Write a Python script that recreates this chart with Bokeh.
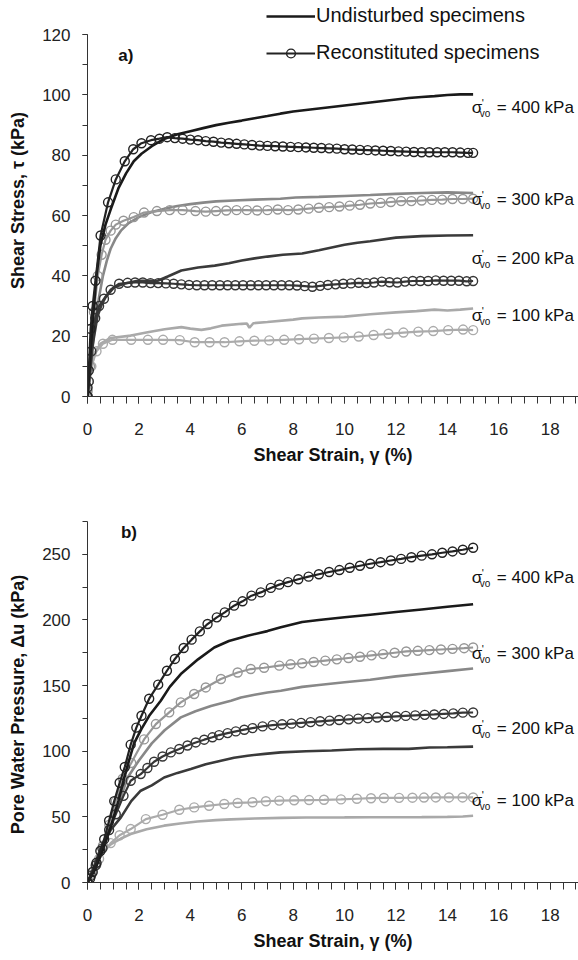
from bokeh.plotting import figure
from bokeh.models import Range1d, FixedTicker, Label, Legend, LegendItem
from bokeh.layouts import column
from bokeh.embed import file_html
from bokeh.resources import INLINE

FONT = "Liberation Sans"

# ---------------- data : panel a) shear stress (kPa) vs shear strain (%) ----------------
A_U400 = [(0, 0), (0.1, 12), (0.2, 25), (0.35, 40), (0.5, 50), (0.7, 57), (0.9, 62), (1.2, 69), (1.5, 74),
          (1.8, 78), (2.1, 80.5), (2.5, 83), (3.0, 85.5), (3.5, 87), (4.0, 88), (4.5, 89), (5.0, 90),
          (5.5, 90.8), (6.0, 91.5), (6.5, 92.3), (7.0, 93), (7.5, 93.8), (8.0, 94.5), (8.5, 95), (9.0, 95.5),
          (9.5, 96), (10.0, 96.5), (10.5, 97), (11.0, 97.5), (11.5, 98), (12.0, 98.5), (12.5, 99), (13.0, 99.3),
          (13.5, 99.6), (14.0, 100), (14.5, 100.2), (15.0, 100.2)]
A_R400 = [(0, 0), (0, 3), (0.05, 8.6), (0.12, 22.4), (0.2, 30), (0.31, 38.4), (0.51, 53.4), (0.8, 64.4),
          (1.1, 72), (1.45, 78), (1.78, 82), (2.1, 84), (2.47, 85), (2.8, 85.5), (3.1, 86), (3.4, 85.7),
          (3.7, 85.5), (4.0, 85.2), (4.3, 85), (4.6, 84.7), (4.9, 84.5), (5.2, 84.2), (5.5, 84), (5.8, 83.8),
          (6.1, 83.6), (6.4, 83.4), (6.7, 83.2), (7.0, 83.1), (7.3, 83), (7.6, 82.9), (7.9, 82.8), (8.2, 82.7),
          (8.5, 82.6), (8.8, 82.5), (9.1, 82.4), (9.4, 82.3), (9.7, 82.2), (10.0, 82), (10.3, 81.9),
          (10.6, 81.8), (10.9, 81.7), (11.2, 81.6), (11.5, 81.5), (11.8, 81.4), (12.1, 81.3), (12.4, 81.2),
          (12.7, 81.1), (13.0, 81), (13.3, 81), (13.6, 81), (13.9, 81), (14.2, 81), (14.5, 80.9),
          (14.8, 80.8), (15.0, 80.8)]
A_U300 = [(0, 0), (0.15, 12), (0.3, 25), (0.45, 33), (0.6, 40), (0.75, 45), (0.9, 49), (1.1, 52.5),
          (1.3, 55), (1.6, 57.5), (2.0, 59.5), (2.5, 61.2), (3.0, 62.3), (3.5, 63.2), (4.0, 63.8), (4.5, 64.3),
          (5.0, 64.7), (5.7, 65), (6.5, 65.3), (7.5, 65.6), (8.1, 66), (9.0, 66.2), (10.0, 66.5), (11.0, 66.8),
          (12.0, 67.2), (13.0, 67.5), (14.0, 67.7), (15.0, 67.5)]
A_R300 = [(0, 0), (0, 2), (0.1, 10), (0.25, 28), (0.4, 40), (0.55, 47), (0.7, 52), (0.9, 55), (1.1, 57),
          (1.4, 58.3), (1.8, 59.5), (2.2, 61), (2.7, 61.5), (3.2, 61.8), (3.7, 61.8), (4.2, 61.5), (4.6, 61.3),
          (5.0, 61.5), (5.4, 61.7), (5.8, 61.8), (6.2, 61.8), (6.6, 61.7), (7.0, 61.8), (7.4, 62), (7.8, 61.8),
          (8.2, 62), (8.6, 62.3), (9.0, 62.6), (9.4, 62.8), (9.8, 63), (10.2, 63.3), (10.6, 63.6), (11.0, 64),
          (11.4, 64.2), (11.8, 64.5), (12.2, 64.8), (12.6, 64.8), (13.0, 65), (13.4, 65.2), (13.8, 65.3),
          (14.2, 65.5), (14.6, 65.5), (15.0, 65.6)]
A_U200 = [(0, 0), (0.1, 8), (0.2, 17), (0.38, 26.3), (0.55, 30.5), (0.7, 32.9), (1.03, 36.2), (1.42, 37.4),
          (1.95, 38.4), (2.73, 38.4), (3.12, 39.8), (3.65, 41.8), (4.3, 42.8), (4.95, 43.4), (5.5, 44.2),
          (6.0, 45.1), (6.5, 45.8), (7.0, 46.4), (7.6, 47), (8.35, 47.4), (9.0, 48.5), (10.0, 50.3),
          (10.5, 51), (11.0, 51.5), (12.0, 52.7), (13.0, 53.2), (14.0, 53.4), (15.0, 53.5)]
A_R200 = [(0, 0), (0.05, 5), (0.15, 15), (0.3, 26), (0.45, 30), (0.64, 32.4), (0.9, 35.4), (1.23, 37.4),
          (1.56, 37.7), (1.85, 37.8), (2.15, 37.8), (2.45, 37.6), (2.75, 37.6), (3.05, 37.5), (3.35, 37.4),
          (3.65, 37.2), (3.95, 37), (4.25, 36.9), (4.55, 36.9), (4.85, 36.9), (5.15, 36.9), (5.45, 36.9),
          (5.75, 36.9), (6.05, 36.9), (6.35, 36.9), (6.65, 36.9), (6.95, 36.9), (7.25, 36.9), (7.55, 36.9),
          (7.85, 36.9), (8.15, 36.8), (8.45, 36.6), (8.75, 36.4), (9.05, 36.7), (9.35, 37), (9.65, 37.2),
          (9.95, 37.4), (10.25, 37.5), (10.55, 37.7), (10.85, 37.6), (11.15, 37.8), (11.45, 38.1),
          (11.75, 37.9), (12.05, 37.8), (12.35, 38.1), (12.65, 38.3), (12.95, 38.3), (13.25, 38.3),
          (13.55, 38.5), (13.85, 38.4), (14.15, 38.4), (14.45, 38.4), (14.75, 38.2), (15.0, 38.3)]
A_U100 = [(0, 0), (0.1, 6), (0.25, 14.1), (0.51, 17.5), (0.9, 19.4), (1.69, 20.2), (2.34, 21.3), (3.0, 22.3),
          (3.65, 23), (4.0, 22.5), (4.43, 22.1), (4.8, 22.6), (5.22, 23.5), (6.0, 24.1), (6.2, 24.2),
          (6.3, 22.8), (6.45, 24.3), (7.0, 24.7), (8.0, 25.5), (8.35, 25.9), (9.0, 26.2), (10.0, 26.5),
          (11.0, 27.3), (12.0, 27.9), (12.8, 28.3), (13.5, 28.8), (14.0, 28.5), (14.5, 28.8), (15.0, 29.2)]
A_R100 = [(0, 0), (0, 1.5), (0.05, 5), (0.15, 10), (0.35, 15), (0.6, 17.5), (0.97, 18.8), (1.7, 18.8),
          (2.35, 18.8), (2.94, 18.8), (3.59, 18.7), (4.17, 18), (4.75, 18), (5.33, 18), (5.91, 18.3),
          (6.49, 18.5), (7.07, 18.6), (7.65, 18.8), (8.23, 19), (8.81, 19.2), (9.39, 19.4), (9.97, 19.6),
          (10.55, 19.9), (11.13, 20.4), (11.71, 20.8), (12.29, 21.2), (12.87, 21.5), (13.45, 21.7),
          (14.03, 22), (14.61, 22.2), (15.0, 22)]

# ---------------- data : panel b) pore water pressure (kPa) vs shear strain (%) ----------------
B_U400 = [(0, 0), (0.3, 10), (0.6, 25), (0.9, 42), (1.2, 62), (1.5, 85), (1.81, 106), (2.1, 117), (2.4, 127),
          (2.85, 138.5), (3.2, 149), (3.63, 158.8), (4.3, 170), (4.93, 179), (5.5, 184), (6.23, 188),
          (7.0, 191.5), (7.52, 194.4), (8.35, 198.5), (9.0, 200), (10.0, 202), (11.0, 204), (12.0, 206),
          (13.0, 208), (14.0, 210), (15.0, 212)]
B_R400 = [(0, 0), (0.1, 3), (0.2, 8), (0.35, 15), (0.5, 24), (0.65, 33), (0.84, 47), (1.04, 62), (1.25, 76),
          (1.45, 88), (1.68, 105), (1.9, 118), (2.1, 127), (2.4, 140), (2.75, 150.7), (3.09, 161.3),
          (3.4, 170.3), (3.74, 178.6), (4.05, 185), (4.37, 191.3), (4.67, 196.9), (5.03, 202), (5.34, 205.8),
          (5.7, 210.9), (6.03, 214.2), (6.38, 218.5), (6.74, 221), (7.13, 224.4), (7.46, 226.9), (7.8, 228.8),
          (8.2, 231), (8.6, 233), (9.0, 234.8), (9.4, 236.5), (9.8, 238), (10.2, 239.8), (10.6, 241.3),
          (11.0, 242.8), (11.4, 244), (11.8, 245.3), (12.2, 246.5), (12.6, 247.8), (13.0, 249), (13.4, 250),
          (13.8, 251.2), (14.2, 252.2), (14.6, 253.5), (15.0, 255)]
B_U300 = [(0, 0), (0.5, 20), (1.0, 48), (1.56, 80), (2.0, 93), (2.5, 106), (3.0, 116), (3.63, 125.8),
          (4.2, 130.5), (4.8, 134.5), (5.58, 138.5), (5.97, 141), (6.5, 143), (7.0, 144.7), (7.52, 146.1),
          (8.35, 149), (9.0, 150.5), (10.0, 152.5), (11.0, 154.5), (12.0, 157), (13.0, 159), (14.0, 161),
          (15.0, 163)]
B_R300 = [(0, 0), (0.15, 6), (0.35, 14), (0.6, 28), (0.85, 44), (1.1, 62), (1.37, 79), (1.7, 91), (2.2, 109),
          (2.66, 120.7), (3.18, 129.6), (3.63, 137.2), (4.15, 143.6), (4.6, 148.6), (5.19, 155), (5.84, 160),
          (6.35, 162.6), (6.87, 163.6), (7.46, 165.2), (7.9, 166.2), (8.35, 167), (8.8, 168), (9.25, 169),
          (9.7, 170), (10.15, 171), (10.6, 172), (11.05, 173), (11.5, 174), (11.95, 175), (12.4, 176),
          (12.85, 176.5), (13.3, 177), (13.75, 177.5), (14.2, 178), (14.65, 178.5), (15.0, 179)]
B_U200 = [(0, 0), (0.25, 12), (0.52, 26.7), (0.9, 40), (1.3, 49.6), (1.7, 62), (2.07, 69.9), (2.5, 74),
          (2.98, 80), (3.5, 83.5), (4.02, 86.4), (4.6, 90), (5.19, 92.7), (5.7, 95), (6.23, 96.6), (6.9, 98),
          (7.52, 99.1), (8.5, 100), (9.5, 100.5), (10.5, 101.5), (11.5, 101.8), (12.5, 101.8), (13.3, 102.8),
          (14.0, 103), (15.0, 103.5)]
B_R200 = [(0, 0), (0.13, 5), (0.32, 13), (0.58, 26), (0.84, 40), (1.1, 52), (1.4, 66), (1.68, 77.5),
          (2.07, 82.6), (2.33, 87.2), (2.59, 92), (2.92, 96), (3.24, 99.1), (3.57, 101.7), (3.89, 104.4),
          (4.21, 106.7), (4.54, 108.8), (4.86, 110.6), (5.12, 112.3), (5.45, 113.8), (5.77, 115.1),
          (6.1, 116.4), (6.42, 117.6), (6.81, 118.9), (7.2, 119.9), (7.57, 120.5), (7.94, 121), (8.31, 121.6),
          (8.68, 122.2), (9.05, 122.8), (9.42, 123.3), (9.79, 123.8), (10.16, 124.3), (10.53, 124.8),
          (10.9, 125.2), (11.27, 125.7), (11.64, 126.1), (12.01, 126.5), (12.38, 126.9), (12.75, 127.3),
          (13.12, 127.7), (13.49, 128), (13.86, 128.4), (14.23, 128.8), (14.6, 129.4), (15.0, 129.5)]
B_U100 = [(0, 0), (0.25, 10), (0.51, 22), (0.9, 29), (1.3, 33.5), (1.68, 36.9), (2.3, 40.5), (2.98, 43.3),
          (3.6, 45), (4.28, 46.5), (5.0, 47.5), (5.58, 48.1), (6.5, 48.8), (7.52, 49.2), (8.5, 49.5),
          (10.0, 49.6), (11.0, 49.7), (12.0, 49.7), (13.0, 49.8), (14.0, 50), (14.6, 50.3), (15.0, 50.8)]
B_R100 = [(0, 0), (0.2, 8), (0.45, 18), (0.9, 30), (1.25, 36), (1.68, 40.7), (2.27, 48.3), (2.92, 51.6),
          (3.57, 55.4), (4.15, 57.2), (4.73, 58.5), (5.32, 59.8), (5.84, 60.6), (6.42, 61.1), (6.94, 61.9),
          (7.46, 62.4), (8.04, 62.6), (8.62, 62.8), (9.2, 63), (9.86, 63.3), (10.48, 63.8), (11.03, 64.2),
          (11.53, 64.4), (12.12, 64.5), (12.64, 64.6), (13.09, 64.7), (13.55, 64.8), (14.06, 64.8),
          (14.59, 64.8), (15.0, 64.8)]

STRESS_LEVELS = ["400", "300", "200", "100"]
A_TICKS = [0, 20, 40, 60, 80, 100, 120]
A_MINOR = [0, 10, 20, 30, 40, 50, 60, 70, 80, 90, 100, 110, 120]
B_TICKS = [0, 50, 100, 150, 200, 250]
B_MINOR = [0, 25, 50, 75, 100, 125, 150, 175, 200, 225, 250, 275]
X_TICKS = [0, 2, 4, 6, 8, 10, 12, 14, 16, 18]
X_MINOR = [0, 0.5, 1, 1.5, 2, 2.5, 3, 3.5, 4, 4.5, 5, 5.5, 6, 6.5, 7, 7.5, 8, 8.5, 9, 9.5, 10,
           10.5, 11, 11.5, 12, 12.5, 13, 13.5, 14, 14.5, 15, 15.5, 16, 16.5, 17, 17.5, 18, 18.5, 19]

COL_U = {"400": "#1a1a1a", "300": "#888888", "200": "#3a3a3a", "100": "#a9a9a9"}
COL_R = {"400": "#222222", "300": "#979797", "200": "#363636", "100": "#ababab"}


def xs(pts):
    return [p[0] for p in pts]


def ys(pts):
    return [p[1] for p in pts]


def style_axes(p, yticks, yminor, ybounds):
    p.xgrid.visible = False
    p.ygrid.visible = False
    p.outline_line_color = None
    p.background_fill_color = "white"
    p.border_fill_color = "white"
    p.xaxis.ticker = FixedTicker(ticks=X_TICKS, minor_ticks=X_MINOR)
    p.yaxis.ticker = FixedTicker(ticks=yticks, minor_ticks=yminor)
    p.yaxis.bounds = ybounds
    for ax in (p.xaxis, p.yaxis):
        ax.axis_line_color = "#333333"
        ax.axis_line_width = 1
        ax.major_tick_line_color = "#333333"
        ax.minor_tick_line_color = "#333333"
        ax.major_tick_in = 0
        ax.minor_tick_in = 0
        ax.major_label_text_font = FONT
        ax.major_label_text_font_size = "17px"
        ax.major_label_text_color = "#222222"
        ax.axis_label_text_font = FONT
        ax.axis_label_text_font_style = "bold"
        ax.axis_label_text_font_size = "18px"
        ax.axis_label_text_color = "#111111"
    p.xaxis.major_tick_out = 7
    p.xaxis.minor_tick_out = 7
    p.xaxis.major_label_standoff = 19
    p.xaxis.axis_label_standoff = 7
    p.yaxis.major_tick_out = 5
    p.yaxis.minor_tick_out = 5
    p.yaxis.major_label_standoff = 12
    p.yaxis.axis_label_standoff = 11
    p.xaxis.axis_label = "Shear Strain, \u03b3 (%)"


def draw_series(p, und, rec, lvl):
    u = p.line(xs(und), ys(und), line_color=COL_U[lvl], line_width=2.6)
    rl = p.line(xs(rec), ys(rec), line_color=COL_R[lvl], line_width=2.2)
    rp = p.scatter(xs(rec), ys(rec), marker="circle", size=9, fill_alpha=0,
                   line_color=COL_R[lvl], line_width=1.4)
    return u, rl, rp


def annotate(p, x, y, lvl):
    kw = dict(x=x, y=y, text_font=FONT, text_baseline="middle", text_color="#111111")
    p.add_layout(Label(text="\u03c3", text_font_size="17px", **kw))
    p.add_layout(Label(text="'", x_offset=10, y_offset=5, text_font_size="11px", **kw))
    p.add_layout(Label(text="vo", x_offset=8, y_offset=-6, text_font_size="10px", **kw))
    p.add_layout(Label(text="= " + lvl + " kPa", x_offset=25, text_font_size="17px", **kw))


# ---------------- panel a ----------------
pa = figure(width=578, height=470, x_range=Range1d(0, 19.1), y_range=Range1d(0, 130),
            output_backend="svg", toolbar_location=None,
            min_border_left=87, min_border_right=0, min_border_top=4, min_border_bottom=74)
style_axes(pa, A_TICKS, A_MINOR, (0, 120))
pa.yaxis.axis_label = "Shear Stress, \u03c4 (kPa)"

A_DATA = {"400": (A_U400, A_R400), "300": (A_U300, A_R300), "200": (A_U200, A_R200), "100": (A_U100, A_R100)}
rends = {}
for lvl in ["100", "300", "200", "400"]:
    rends[lvl] = draw_series(pa, A_DATA[lvl][0], A_DATA[lvl][1], lvl)

A_LABEL_Y = {"400": 95.8, "300": 65.3, "200": 45.7, "100": 26.8}
for lvl in STRESS_LEVELS:
    annotate(pa, 14.95, A_LABEL_Y[lvl], lvl)

pa.add_layout(Label(x=1.2, y=113, text="a)", text_font=FONT, text_font_style="bold",
                    text_font_size="17px", text_baseline="middle", text_color="#111111"))

u400, rl400, rp400 = rends["400"]
legend = Legend(items=[LegendItem(label="Undisturbed specimens", renderers=[u400]),
                       LegendItem(label="Reconstituted specimens", renderers=[rl400, rp400])],
                location=(179, 332), glyph_width=49, glyph_height=22, label_height=22,
                spacing=14, padding=0, margin=0, label_standoff=1,
                border_line_alpha=0, background_fill_alpha=0,
                label_text_font=FONT, label_text_font_size="20px", label_text_color="#111111")
pa.add_layout(legend)

# ---------------- panel b ----------------
pb = figure(width=578, height=490, x_range=Range1d(0, 19.1), y_range=Range1d(0, 275),
            output_backend="svg", toolbar_location=None,
            min_border_left=87, min_border_right=0, min_border_top=51, min_border_bottom=78)
style_axes(pb, B_TICKS, B_MINOR, (0, 275))
pb.yaxis.axis_label = "Pore Water Pressure,  \u0394u (kPa)"

B_DATA = {"400": (B_U400, B_R400), "300": (B_U300, B_R300), "200": (B_U200, B_R200), "100": (B_U100, B_R100)}
for lvl in ["100", "300", "200", "400"]:
    draw_series(pb, B_DATA[lvl][0], B_DATA[lvl][1], lvl)

B_LABEL_Y = {"400": 232, "300": 174.4, "200": 117, "100": 62.5}
for lvl in STRESS_LEVELS:
    annotate(pb, 14.95, B_LABEL_Y[lvl], lvl)

pb.add_layout(Label(x=1.3, y=266.5, text="b)", text_font=FONT, text_font_style="bold",
                    text_font_size="17px", text_baseline="middle", text_color="#111111"))

layout = column(pa, pb, spacing=0)
open("out.html", "w").write(file_html(layout, INLINE))
